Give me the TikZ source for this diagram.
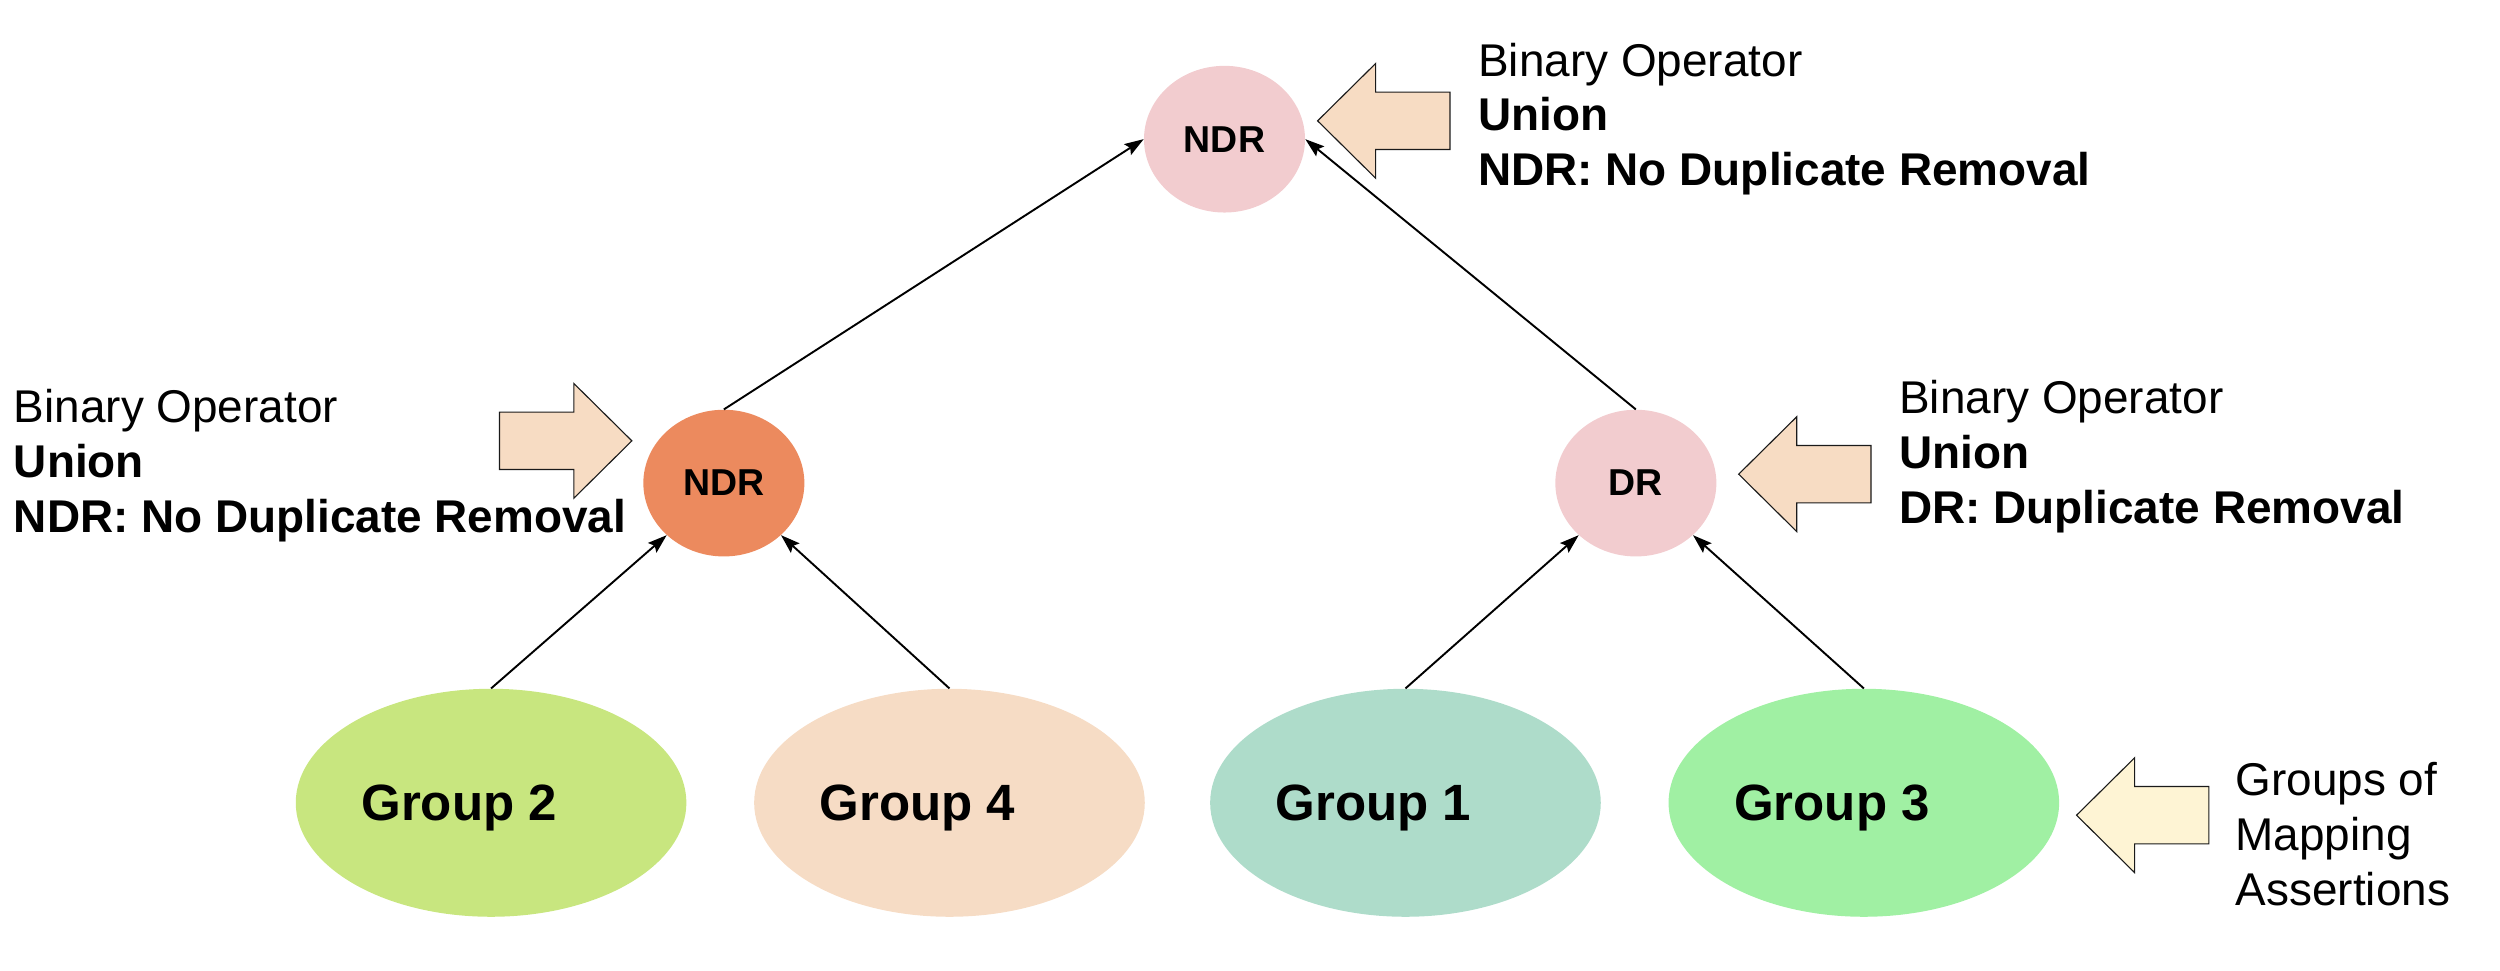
\documentclass[tikz,border=0pt]{standalone}
\usepackage{fontspec}
\setmainfont{Liberation Sans}
\usetikzlibrary{shapes.geometric,arrows.meta}
\definecolor{pinkop}{HTML}{F2CCCF}
\definecolor{orangeop}{HTML}{EC8A5E}
\definecolor{gtwo}{HTML}{C8E67F}
\definecolor{gfour}{HTML}{F6DCC5}
\definecolor{gone}{HTML}{AEDCCA}
\definecolor{gthree}{HTML}{A0F0A3}
\definecolor{peach}{HTML}{F7DCC3}
\definecolor{cream}{HTML}{FEF4D4}
\definecolor{outl}{HTML}{1A1A1A}
\tikzset{
  opnode/.style={ellipse, inner sep=0pt, minimum width=101pt, minimum height=92pt,
    font=\fontsize{23.5}{26}\selectfont\bfseries},
  groupnode/.style={ellipse, inner sep=0pt, minimum width=245pt, minimum height=143pt,
    text depth=0pt, font=\fontsize{32}{36}\selectfont\bfseries},
  txt/.style={anchor=base west, inner sep=0pt, font=\fontsize{28.8}{34}\selectfont},
  txtb/.style={txt, font=\fontsize{28.8}{34}\selectfont\bfseries},
  edge/.style={line width=1.2pt, -{Stealth[length=12pt,width=8pt,inset=2pt]}},
  callout/.style={draw=outl, line width=0.7pt, line join=miter},
  blockarrow/.pic={\path[pic actions] (0,0) -- (36.4,-36) -- (36.4,-18) -- (83,-18)
     -- (83,18) -- (36.4,18) -- (36.4,36) -- cycle;}
}
\begin{document}
\begin{tikzpicture}[x=1pt,y=-1pt]
\useasboundingbox (0,0) rectangle (1568,609);
% operator nodes
\node[opnode, fill=pinkop] (top) at (768,87.3) {NDR};
\node[opnode, fill=orangeop] (ndrl) at (454,303) {NDR};
\node[opnode, fill=pinkop] (dr) at (1026,303) {DR};
% group nodes
\node[groupnode, fill=gtwo] (g2) at (308,503.5) {Group 2\hspace*{40pt}};
\node[groupnode, fill=gfour] (g4) at (595.5,503.5) {Group 4\hspace*{40pt}};
\node[groupnode, fill=gone] (g1) at (881.5,503.5) {Group 1\hspace*{40pt}};
\node[groupnode, fill=gthree] (g3) at (1169,503.5) {Group 3\hspace*{40pt}};
% connectors
\draw[edge] (ndrl.north) -- (top.west);
\draw[edge] (dr.north) -- (top.east);
\draw[edge] (g2.north) -- (ndrl.south west);
\draw[edge] (g4.north) -- (ndrl.south east);
\draw[edge] (g1.north) -- (dr.south west);
\draw[edge] (g3.north) -- (dr.south east);
% callout block arrows
\pic[callout, fill=peach] at (826.4,75.8) {blockarrow};
\pic[callout, fill=peach, xscale=-1] at (396.3,276.5) {blockarrow};
\pic[callout, fill=peach] at (1090.5,297.4) {blockarrow};
\pic[callout, fill=cream] at (1302.4,511.3) {blockarrow};
% texts
\node[txt]  (t1a) at (927,47.7) {Binary Operator};
\node[txtb] (t1b) at (927,82) {Union};
\node[txtb] (t1c) at (927,116.3) {NDR: No Duplicate Removal};
\node[txt]  (t2a) at (8.5,265) {Binary Operator};
\node[txtb] (t2b) at (8.5,299.5) {Union};
\node[txtb] (t2c) at (8.5,334) {NDR: No Duplicate Removal};
\node[txt]  (t3a) at (1191,259.5) {Binary Operator};
\node[txtb] (t3b) at (1191,294) {Union};
\node[txtb] (t3c) at (1191,328.5) {DR: Duplicate Removal};
\node[txt]  (t4a) at (1402,498.7) {Groups of};
\node[txt]  (t4b) at (1402,533.3) {Mapping};
\node[txt]  (t4c) at (1402,568) {Assertions};
\end{tikzpicture}
\end{document}
